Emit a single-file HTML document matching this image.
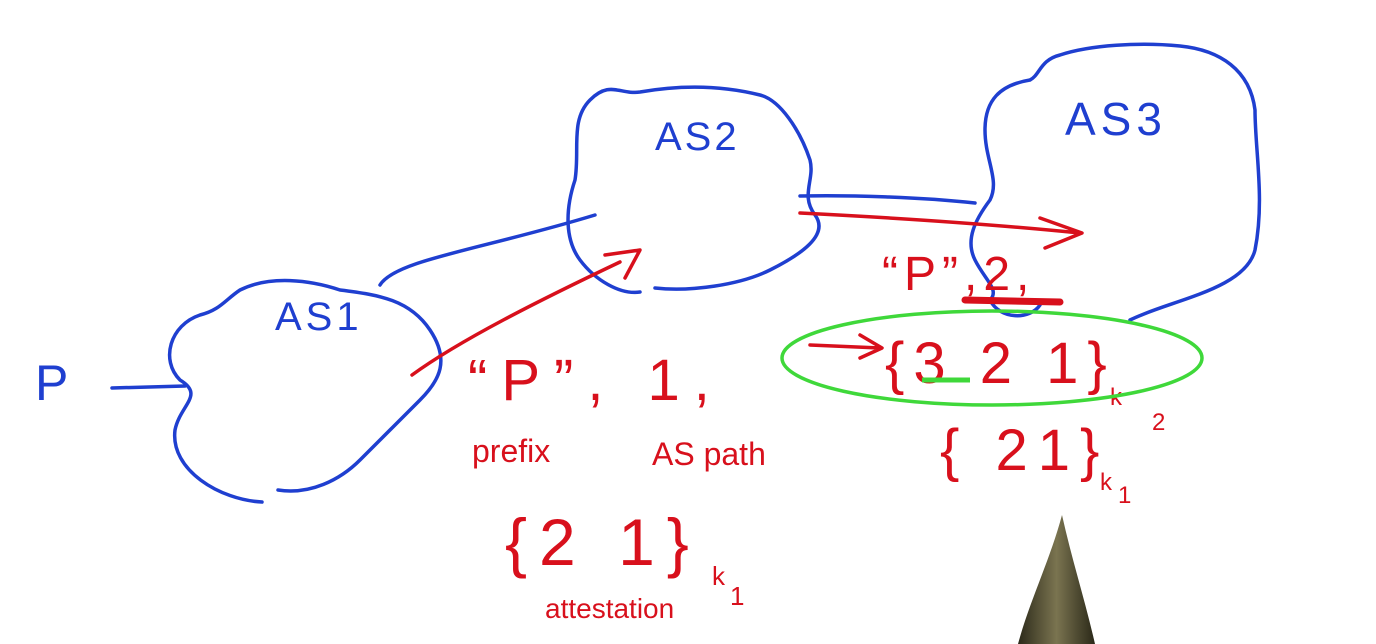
<!DOCTYPE html>
<html><head><meta charset="utf-8"><style>
html,body{margin:0;padding:0;background:#fff;width:1376px;height:644px;overflow:hidden}
svg{display:block}
.b{fill:none;stroke:#1f3fd0;stroke-width:3.5;stroke-linecap:round;stroke-linejoin:round}
.r{fill:none;stroke:#d8101c;stroke-width:3.5;stroke-linecap:round;stroke-linejoin:round}
.g{fill:none;stroke:#3fd83a;stroke-width:3.5}
text{font-family:"Liberation Sans",sans-serif}
.bt{fill:#1f3fd0}.rt{fill:#d8101c}
</style></head><body>
<svg width="1376" height="644" viewBox="0 0 1376 644">
<rect width="1376" height="644" fill="#fff"/>
<g>
<path class="b" d="M262,502 C220,500 170,470 175,430 C180,405 205,395 180,380 C160,360 170,325 200,315 C220,310 225,300 240,290 C270,275 310,280 340,290 C380,295 410,300 430,330 C450,360 440,380 420,400 C400,420 380,440 360,460 C340,480 310,495 278,490"/>
<text class="bt" x="275" y="330" font-size="40" letter-spacing="4">AS1</text>
</g>
<path class="b" d="M112,388 L185,386"/>
<text class="bt" x="35" y="400" font-size="50">P</text>
<path class="b" d="M380,285 C395,260 480,250 595,215"/>
<g>
<path class="b" d="M655,288 C690,292 740,285 770,270 C800,255 830,235 815,215 C800,195 815,180 810,160 C800,130 780,100 760,95 C720,85 680,85 640,92 C620,95 610,80 590,100 C570,120 580,150 575,180 C565,210 565,240 580,260 C595,280 620,295 640,292"/>
<text class="bt" x="655" y="150" font-size="40" letter-spacing="3">AS2</text>
</g>
<path class="b" d="M800,196 C850,195 920,197 975,203"/>
<g>
<path class="b" d="M990,300 C1000,320 1030,320 1040,305 M1130,320 C1170,300 1245,290 1255,250 C1265,200 1255,150 1255,110 C1250,70 1220,50 1180,46 C1140,42 1090,45 1060,55 C1040,60 1040,75 1030,80 C1000,85 985,100 985,130 C985,160 1000,180 990,200 C975,220 965,240 975,260 C985,280 1000,290 990,300"/>
<text class="bt" x="1065" y="135" font-size="46" letter-spacing="5">AS3</text>
</g>
<path class="r" d="M412,375 C460,340 540,300 620,262 M605,255 L640,250 L625,278"/>
<path class="r" d="M800,213 C900,218 1000,225 1080,233 M1040,218 L1082,233 L1045,248"/>
<g class="rt">
<text x="468" y="400" font-size="58" letter-spacing="14">“P”, 1,</text>
<text x="472" y="462" font-size="32">prefix</text>
<text x="652" y="465" font-size="32">AS path</text>
<text x="505" y="565" font-size="66" letter-spacing="12">{2 1}</text>
<text x="712" y="585" font-size="26">k</text><text x="730" y="605" font-size="26">1</text>
<text x="545" y="618" font-size="28">attestation</text>
</g>
<g class="rt">
<text x="882" y="290" font-size="48" letter-spacing="6">“P”,2,</text>
<path class="r" style="stroke-width:7" d="M965,300 L1060,302"/>
<text x="940" y="470" font-size="58" letter-spacing="10">{ 21}</text>
<text x="1100" y="490" font-size="24">k</text><text x="1118" y="503" font-size="24">1</text>
</g>
<g>
<path class="r" d="M810,345 L880,348 M860,335 L882,348 L860,358"/>
<text class="rt" x="885" y="383" font-size="58" letter-spacing="9">{3 2 1}</text>
<text class="rt" x="1110" y="405" font-size="24">k</text><text class="rt" x="1152" y="430" font-size="24">2</text>
<path d="M922,380 L970,380" stroke="#3fd83a" stroke-width="5"/>
<ellipse class="g" cx="992" cy="358" rx="210" ry="47"/>
</g>
<defs><linearGradient id="pen" x1="0" x2="1"><stop offset="0" stop-color="#2c2a1a"/><stop offset="0.5" stop-color="#7a7450"/><stop offset="1" stop-color="#2a2818"/></linearGradient></defs>
<path d="M1062,515 C1050,560 1030,600 1018,644 L1095,644 C1085,600 1072,560 1062,515 Z" fill="url(#pen)"/>
</svg>
</body></html>
